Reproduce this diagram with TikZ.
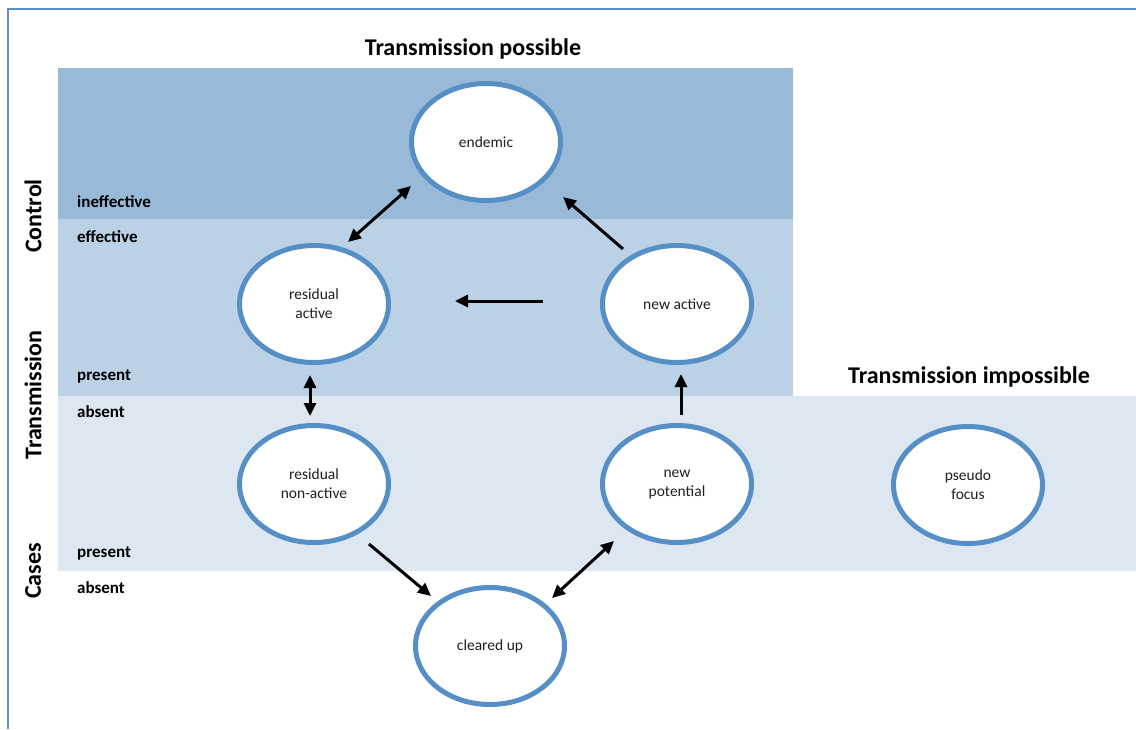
\documentclass[tikz,border=0pt]{standalone}
\usepackage{fontspec}
\setmainfont{Carlito}
\usetikzlibrary{shapes.geometric,arrows.meta,calc}
\definecolor{bandA}{HTML}{98BAD8}
\definecolor{bandB}{HTML}{BAD1E6}
\definecolor{bandC}{HTML}{DCE7F2}
\definecolor{ring}{HTML}{568EC6}
\definecolor{framec}{HTML}{5B8FCB}
\tikzset{
  state/.style={ellipse, draw=ring, line width=5pt, fill=white,
    minimum width=149pt, minimum height=117pt, inner sep=0pt, align=center,
    text=black!88, font=\fontsize{15.5}{19}\selectfont},
  title/.style={font=\fontsize{24}{28}\selectfont\bfseries, inner sep=0pt},
  sidelabel/.style={font=\fontsize{24}{28}\selectfont\bfseries, rotate=90, inner sep=0pt},
  level/.style={font=\fontsize{17}{20}\selectfont\bfseries, anchor=west, inner sep=0pt},
  arr/.style={line width=3pt, -{Triangle[length=13pt,width=12pt]}},
  biarr/.style={line width=3pt, {Triangle[length=13pt,width=12pt]}-{Triangle[length=13pt,width=12pt]}}
}
\begin{document}
\begin{tikzpicture}[x=1pt,y=-1pt]
\useasboundingbox (0,0) rectangle (1136,729);
% bands
\fill[bandA] (58,68) rectangle (793,219);
\fill[bandB] (58,219) rectangle (793,396);
\fill[bandC] (58,396) rectangle (1136,571);
% frame
\draw[framec, line width=1.5pt] (8,729) -- (8,9) -- (1136,9);
% titles
\node[title] (tpos) at (473,49) {Transmission possible};
\node[title] (timp) at (969,377) {Transmission impossible};
% side labels
\node[sidelabel] (lcontrol) at (33,216) {Control};
\node[sidelabel] (ltrans) at (33,395) {Transmission};
\node[sidelabel] (lcases) at (33,571) {Cases};
% level labels
\node[level] (l1) at (77,202) {ineffective};
\node[level] (l2) at (77,237) {effective};
\node[level] (l3) at (77,376) {present};
\node[level] (l4) at (77,412) {absent};
\node[level] (l5) at (77,553) {present};
\node[level] (l6) at (77,588) {absent};
% states
\node[state] (endemic) at (486,142) {endemic};
\node[state] (resact) at (314,304) {residual\\active};
\node[state] (newact) at (677,304) {new active};
\node[state] (resnon) at (314,484) {residual\\non-active};
\node[state] (newpot) at (677,484) {new\\potential};
\node[state] (pseudo) at (968,485) {pseudo\\focus};
\node[state] (cleared) at (490,646) {cleared up};
% connectors
\draw[biarr] ($(endemic.center)+(-75,44)$) -- ($(resact.center)+(34,-62)$);
\draw[arr] ($(newact.center)+(-54,-55)$) -- ($(endemic.center)+(77,55)$);
\draw[arr] ($(newact.center)+(-134,-3)$) -- ($(resact.center)+(141,-3)$);
\draw[biarr] ($(resact.center)+(-4,71)$) -- ($(resnon.center)+(-4,-68)$);
\draw[arr] ($(newpot.center)+(4,-69)$) -- ($(newact.center)+(4,70)$);
\draw[arr] ($(resnon.center)+(55,60)$) -- ($(cleared.center)+(-59,-50)$);
\draw[biarr] ($(cleared.center)+(62,-48)$) -- ($(newpot.center)+(-63,57)$);
\end{tikzpicture}
\end{document}
